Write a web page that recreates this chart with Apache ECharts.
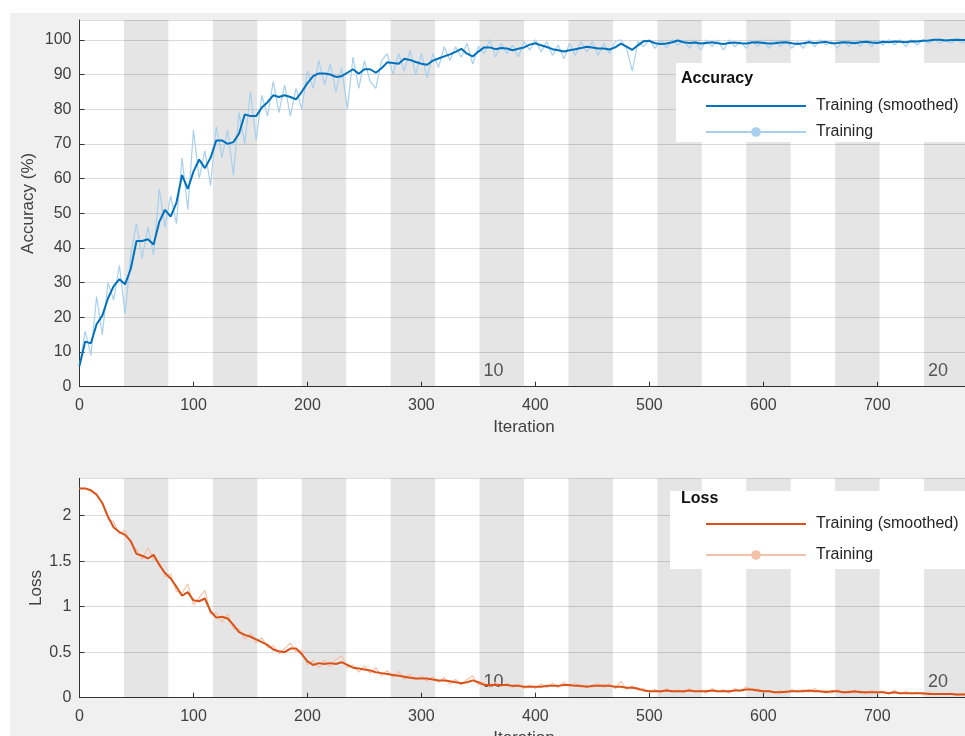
<!DOCTYPE html>
<html>
<head>
<meta charset="utf-8">
<title>Training progress</title>
<script src="https://cdn.jsdelivr.net/npm/echarts@6.0.0/dist/echarts.min.js"></script>
<style>
  body { margin: 0; background: #fff; }
  #bg { position: absolute; left: 10px; top: 13px; width: 955px; height: 723px; background: #f0f0f0; }
  #main { position: absolute; left: 0; top: 0; width: 965px; height: 736px; }
</style>
</head>
<body>
<div id="bg"></div>
<div id="main"></div>
<script>
// one value every 5 iterations, 0..780
const iterStep = 5;
const epochIters = 39;
const numEpochs = 20;
const epochLabels = [10, 20];

const accSmooth = [
  6, 13, 12.5, 18, 20.5, 25.5, 29, 31, 29.5, 34,
  42, 42, 42.5, 41, 47.5, 51, 49, 53, 61, 57,
  62, 65.5, 63, 66, 71, 71, 70, 70.5, 73, 78.5,
  78, 78, 80.5, 82, 84, 83.5, 84, 83.5, 82.8, 85,
  87.5, 89.5, 90.3, 90.3, 90, 89.3, 89.5, 90.5, 91.5, 90.2,
  91.5, 91.5, 90.5, 91.8, 93.5, 93.3, 93.1, 94.5, 94.2, 93.6,
  93.1, 92.8, 94, 94.6, 95.2, 95.8, 96.5, 97.4, 96, 95.2,
  96.6, 97.8, 97.8, 97.3, 97.6, 97.5, 97, 97.4, 97.8, 98.6,
  99, 98.4, 97.9, 97.3, 97, 96.6, 97, 97.3, 97.6, 98,
  97.8, 97.5, 97.5, 97.2, 97.8, 98.9, 98, 97.1, 98.4, 99.6,
  99.7, 99, 98.8, 98.9, 99.3, 99.8, 99.3, 99.1, 99.2, 98.9,
  99.1, 99.3, 99, 98.8, 99.1, 99.2, 99, 98.9, 99.2, 99.3,
  99.1, 98.9, 99, 99.2, 99.3, 99, 98.8, 99, 99.3, 99.1,
  99.2, 99.4, 99, 99.1, 99.3, 99.2, 99, 99.3, 99.4, 99.2,
  99.1, 99.4, 99.3, 99.5, 99.4, 99.3, 99.6, 99.5, 99.7, 99.8,
  100, 100, 99.8, 99.9, 100, 99.9, 100
];
const accRaw = [
  6, 16, 9, 26, 15, 30, 25, 35, 21, 38,
  47, 37, 46, 38, 57, 46, 55, 47, 66, 51,
  74, 60, 68, 58, 75, 66, 74, 61, 79, 70,
  85, 71, 84, 78, 88, 79, 87, 78, 86, 80,
  91, 86, 94, 87, 93, 85, 92, 80, 95, 86,
  94, 88, 86, 94, 96, 90, 96, 91, 97, 90,
  96, 89, 96, 92, 98, 94, 98, 95, 99, 93,
  98, 96, 100, 95, 99, 96, 98.5, 95, 99.5, 97,
  100, 96.5, 99.5, 95.5, 98.5, 94.5, 99, 95.5, 99.5, 96.5,
  99.5, 95.5, 99, 96, 99.5, 100, 97.5, 91, 99.5, 98,
  100, 97.5, 100, 97.5, 100, 98.5, 100, 97.5, 100, 97,
  100, 98, 100, 97, 100, 98, 99.5, 97.5, 100, 98,
  100, 97.5, 100, 98, 100, 97.5, 99.5, 97.5, 100, 98,
  100, 98.5, 99.5, 97.5, 100, 98, 100, 98, 100, 98,
  100, 98.5, 100, 98.5, 100, 98, 100, 98.5, 100, 99,
  100, 99, 100, 99, 100, 99, 100
];
const lossSmooth = [
  2.30, 2.30, 2.28, 2.23, 2.14, 1.99, 1.87, 1.82, 1.79, 1.72,
  1.58, 1.56, 1.53, 1.57, 1.46, 1.37, 1.31, 1.22, 1.12, 1.16,
  1.07, 1.06, 1.09, 0.95, 0.88, 0.89, 0.87, 0.80, 0.72, 0.69,
  0.67, 0.64, 0.61, 0.58, 0.53, 0.51, 0.50, 0.54, 0.54, 0.48,
  0.40, 0.36, 0.38, 0.37, 0.38, 0.37, 0.39, 0.36, 0.33, 0.32,
  0.31, 0.30, 0.28, 0.27, 0.26, 0.25, 0.24, 0.23, 0.22, 0.21,
  0.21, 0.21, 0.20, 0.19, 0.19, 0.18, 0.17, 0.16, 0.17, 0.19,
  0.17, 0.14, 0.14, 0.14, 0.14, 0.14, 0.13, 0.13, 0.12, 0.12,
  0.12, 0.12, 0.13, 0.13, 0.13, 0.14, 0.14, 0.13, 0.13, 0.12,
  0.13, 0.13, 0.13, 0.13, 0.12, 0.12, 0.11, 0.11, 0.10, 0.08,
  0.07, 0.07, 0.07, 0.08, 0.07, 0.07, 0.07, 0.08, 0.07, 0.07,
  0.07, 0.08, 0.07, 0.07, 0.07, 0.08, 0.08, 0.09, 0.09, 0.08,
  0.07, 0.07, 0.06, 0.06, 0.065, 0.07, 0.07, 0.07, 0.08, 0.07,
  0.07, 0.06, 0.07, 0.07, 0.06, 0.06, 0.07, 0.06, 0.06, 0.06,
  0.06, 0.06, 0.05, 0.06, 0.05, 0.05, 0.05, 0.05, 0.05, 0.04,
  0.04, 0.04, 0.04, 0.04, 0.035, 0.035, 0.035
];
const lossRaw = [
  2.30, 2.30, 2.27, 2.24, 2.13, 1.96, 1.93, 1.80, 1.84, 1.70,
  1.63, 1.52, 1.65, 1.52, 1.50, 1.33, 1.36, 1.17, 1.15, 1.25,
  1.02, 1.10, 1.18, 0.92, 0.93, 0.83, 0.92, 0.76, 0.76, 0.64,
  0.71, 0.60, 0.66, 0.55, 0.57, 0.48, 0.54, 0.60, 0.50, 0.52,
  0.36, 0.41, 0.33, 0.41, 0.34, 0.42, 0.46, 0.33, 0.36, 0.28,
  0.35, 0.27, 0.33, 0.24, 0.30, 0.22, 0.29, 0.20, 0.26, 0.19,
  0.24, 0.18, 0.23, 0.17, 0.22, 0.15, 0.20, 0.14, 0.20, 0.24,
  0.14, 0.17, 0.11, 0.17, 0.12, 0.16, 0.11, 0.15, 0.10, 0.14,
  0.10, 0.15, 0.11, 0.16, 0.11, 0.17, 0.12, 0.16, 0.11, 0.14,
  0.11, 0.16, 0.11, 0.15, 0.10, 0.18, 0.09, 0.13, 0.08, 0.10,
  0.06, 0.09, 0.05, 0.10, 0.06, 0.09, 0.05, 0.10, 0.06, 0.09,
  0.05, 0.10, 0.06, 0.09, 0.05, 0.10, 0.07, 0.12, 0.08, 0.10,
  0.06, 0.08, 0.05, 0.08, 0.05, 0.09, 0.06, 0.09, 0.06, 0.10,
  0.06, 0.08, 0.05, 0.09, 0.05, 0.08, 0.05, 0.08, 0.04, 0.08,
  0.05, 0.07, 0.04, 0.08, 0.04, 0.07, 0.04, 0.06, 0.03, 0.06,
  0.03, 0.05, 0.03, 0.05, 0.02, 0.05, 0.03
];

const legendText = {
  accSmooth: 'Training (smoothed)', accRaw: 'Training',
  lossSmooth: 'Training (smoothed)', lossRaw: 'Training'
};

const font = 'Liberation Sans';
const textCol = '#404040';

function pairs(arr) {
  return arr.map((v, i) => [i * iterStep, v]);
}

// grey band for every even epoch, with the epoch number on some of them
function epochBands() {
  let out = [];
  for (let e = 2; e <= numEpochs; e += 2) {
    let start = { xAxis: (e - 1) * epochIters };
    if (epochLabels.indexOf(e) >= 0) {
      start.label = {
        show: true, formatter: String(e), position: 'insideBottomLeft',
        distance: 4, offset: [0, -3], color: '#555', fontSize: 18, fontFamily: font
      };
    }
    out.push([start, { xAxis: e * epochIters }]);
  }
  return out;
}

function xAxisCfg(gridIndex) {
  return {
    gridIndex: gridIndex, type: 'value', min: 0, max: 780, interval: 100,
    name: 'Iteration', nameLocation: 'middle', nameGap: 32, nameMoveOverlap: false,
    nameTextStyle: { color: textCol, fontSize: 17, fontFamily: font },
    axisLine: { show: true, lineStyle: { color: '#333', width: 1 } },
    axisTick: { show: true, inside: true, length: 5, lineStyle: { color: '#333' } },
    axisLabel: { color: textCol, fontSize: 16, fontFamily: font, margin: 11, showMaxLabel: false },
    splitLine: { show: false }
  };
}

function yAxisCfg(gridIndex, name, max, interval, gap) {
  return {
    gridIndex: gridIndex, type: 'value', min: 0, max: max, interval: interval,
    name: name, nameLocation: 'middle', nameGap: gap, nameMoveOverlap: false,
    nameTextStyle: { color: textCol, fontSize: 17, fontFamily: font },
    axisLine: { show: true, lineStyle: { color: '#333', width: 1 } },
    axisTick: { show: true, inside: true, length: 5, lineStyle: { color: '#333' } },
    axisLabel: { color: textCol, fontSize: 16, fontFamily: font, margin: 8, showMaxLabel: false },
    splitLine: { show: true, lineStyle: { color: '#dadada', width: 1 } }
  };
}

function legendCfg(top, gap, names) {
  return {
    orient: 'vertical', left: 705, top: top, itemGap: gap, padding: 0,
    itemWidth: 100, itemHeight: 12, z: 10, selectedMode: false,
    data: [
      { name: names[0], itemStyle: { color: 'rgba(0,0,0,0)' } },
      { name: names[1] }
    ],
    formatter: function (n) { return legendText[n]; },
    textStyle: { color: '#262626', fontSize: 16, fontFamily: font, padding: [0, 0, 0, 5] }
  };
}

const chart = echarts.init(document.getElementById('main'));
chart.setOption({
  animation: false,
  backgroundColor: 'transparent',
  grid: [
    { left: 79.5, top: 20, width: 889, height: 366.7, show: true, backgroundColor: '#fff', borderWidth: 0, outerBoundsMode: 'none' },
    { left: 79.5, top: 478.3, width: 889, height: 219.4, show: true, backgroundColor: '#fff', borderWidth: 0, outerBoundsMode: 'none' }
  ],
  xAxis: [xAxisCfg(0), xAxisCfg(1)],
  yAxis: [yAxisCfg(0, 'Accuracy (%)', 105.7, 10, 43), yAxisCfg(1, 'Loss', 2.411, 0.5, 35)],
  legend: [
    legendCfg(98, 10, ['accSmooth', 'accRaw']),
    legendCfg(516, 15, ['lossSmooth', 'lossRaw'])
  ],
  graphic: [
    { type: 'rect', z: 3, shape: { x: 676, y: 63, width: 300, height: 79 }, style: { fill: '#fff' } },
    { type: 'text', z: 10, x: 681, y: 79, style: { text: 'Accuracy', fill: '#111', font: 'bold 16px "Liberation Sans"', verticalAlign: 'middle' } },
    { type: 'rect', z: 3, shape: { x: 670, y: 491, width: 300, height: 78 }, style: { fill: '#fff' } },
    { type: 'text', z: 10, x: 681, y: 499, style: { text: 'Loss', fill: '#111', font: 'bold 16px "Liberation Sans"', verticalAlign: 'middle' } }
  ],
  series: [
    {
      type: 'line', xAxisIndex: 0, yAxisIndex: 0, data: [], z: 1,
      markArea: { silent: true, itemStyle: { color: 'rgba(0,0,0,0.1)' }, data: epochBands() }
    },
    {
      type: 'line', xAxisIndex: 1, yAxisIndex: 1, data: [], z: 1,
      markArea: { silent: true, itemStyle: { color: 'rgba(0,0,0,0.1)' }, data: epochBands() }
    },
    {
      name: 'accRaw', type: 'line', xAxisIndex: 0, yAxisIndex: 0, data: pairs(accRaw),
      symbol: 'circle', showSymbol: false, z: 2,
      itemStyle: { color: '#a8d0ee' }, lineStyle: { color: '#a8d0ee', width: 1.2 }
    },
    {
      name: 'accSmooth', type: 'line', xAxisIndex: 0, yAxisIndex: 0, data: pairs(accSmooth),
      symbol: 'none', z: 2,
      itemStyle: { color: '#0072BD' }, lineStyle: { color: '#0072BD', width: 2 }
    },
    {
      name: 'lossRaw', type: 'line', xAxisIndex: 1, yAxisIndex: 1, data: pairs(lossRaw),
      symbol: 'circle', showSymbol: false, z: 2,
      itemStyle: { color: '#f4c2a8' }, lineStyle: { color: '#f4c2a8', width: 1.2 }
    },
    {
      name: 'lossSmooth', type: 'line', xAxisIndex: 1, yAxisIndex: 1, data: pairs(lossSmooth),
      symbol: 'none', z: 2,
      itemStyle: { color: '#D95319' }, lineStyle: { color: '#D95319', width: 2 }
    }
  ]
});
</script>
</body>
</html>
